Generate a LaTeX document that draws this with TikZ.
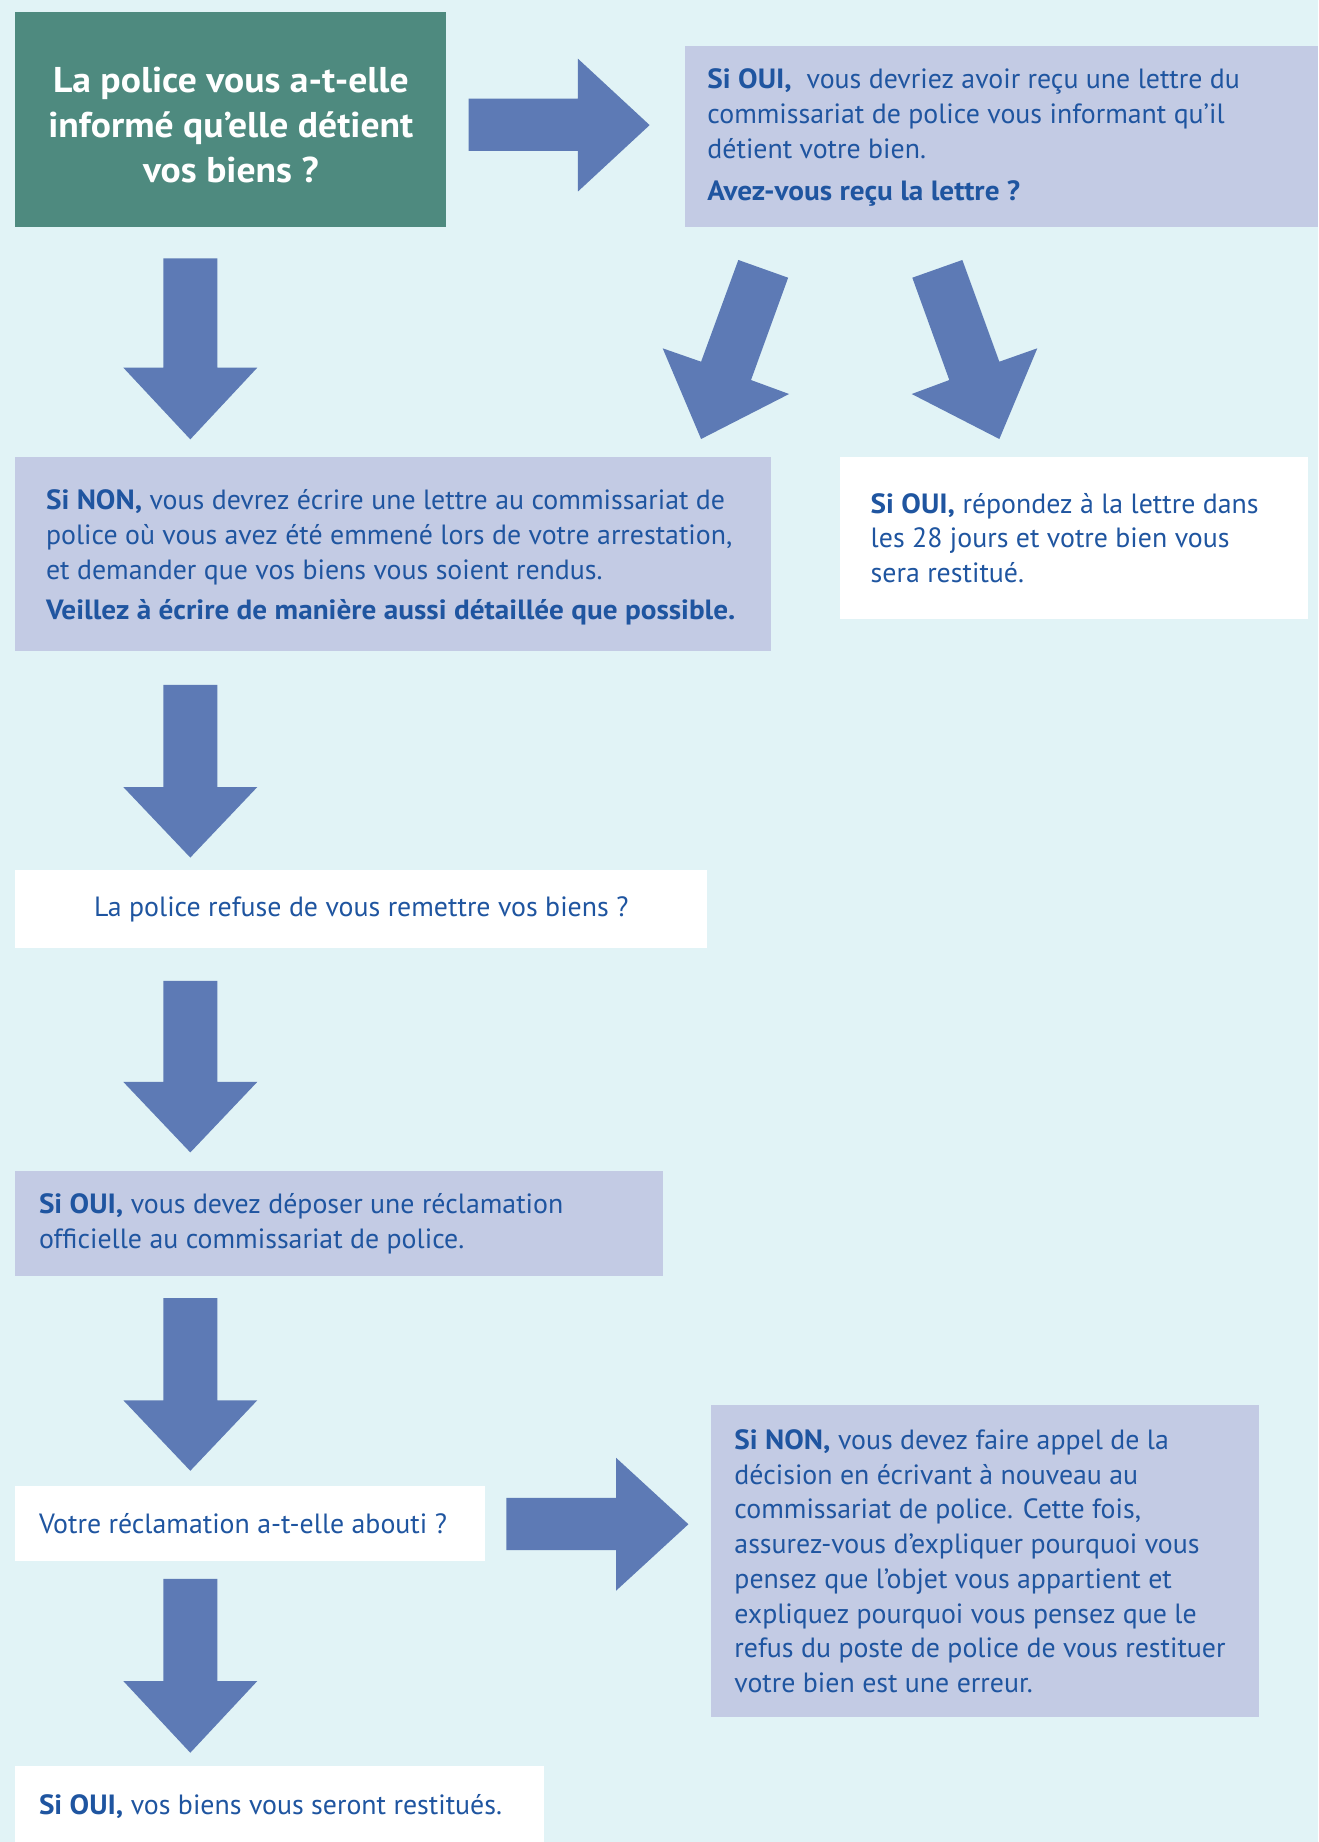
\documentclass[tikz,border=0pt]{standalone}
\usepackage{fontspec}
\setmainfont{PT Sans}[BoldFeatures={FakeStretch=1.05}]
\definecolor{bgc}{HTML}{E1F3F6}
\definecolor{lavc}{HTML}{C3CBE4}
\definecolor{greenc}{HTML}{4E8A7F}
\definecolor{arrowc}{HTML}{5D7AB5}
\definecolor{textc}{HTML}{1F55A0}
\newcommand{\dnarrow}[3]{\fill[arrowc] (139,#1) -- (185,#1) -- (185,#2) -- (219,#2) -- (162,#3) -- (105,#2) -- (139,#2) -- cycle;}
\begin{document}
\begin{tikzpicture}[x=1pt,y=-1pt,
  boxbase/.style={anchor=north west, inner sep=0, outer sep=0},
  lavbox/.style={boxbase, fill=lavc},
  whitebox/.style={boxbase, fill=white},
  greenbox/.style={boxbase, fill=greenc},
  txt/.style={inner sep=0, align=left, text=textc, anchor=west, font=\fontsize{23.7}{29.6}\selectfont},
  gtxt/.style={inner sep=0, align=center, text=white, font=\fontsize{30.5}{38.5}\selectfont\bfseries}]
\useasboundingbox (0,0) rectangle (1122,1568);
\fill[bgc] (0,0) rectangle (1122,1568);
% boxes
\node[greenbox, minimum width=367pt, minimum height=183pt] (b1) at (13,10) {};
\node[lavbox, minimum width=539pt, minimum height=154pt] (b2) at (583,39) {};
\node[lavbox, minimum width=643pt, minimum height=165pt] (b3) at (13,389) {};
\node[whitebox, minimum width=398pt, minimum height=138pt] (b4) at (715,389) {};
\node[whitebox, minimum width=589pt, minimum height=66pt] (b5) at (13,741) {};
\node[lavbox, minimum width=551pt, minimum height=89pt] (b6) at (13,997) {};
\node[whitebox, minimum width=400pt, minimum height=64pt] (b7) at (13,1265) {};
\node[lavbox, minimum width=467pt, minimum height=266pt] (b8) at (605,1196) {};
\node[whitebox, minimum width=450pt, minimum height=70pt] (b9) at (13,1503) {};
% texts
\node[gtxt] (t1) at ([yshift=-5pt]b1.center) {La police vous a-t-elle\\informé qu’elle détient\\vos biens ?};
\node[txt] (t2) at ([xshift=19pt,yshift=-1pt]b2.west) {\textbf{Si OUI,}\ \ vous devriez avoir reçu une lettre du\\commissariat de police vous informant qu’il\\détient votre bien.\\[6pt]\textbf{Avez-vous reçu la lettre ?}};
\node[txt] (t3) at ([xshift=26pt,yshift=-3pt]b3.west) {\textbf{Si NON,} vous devrez écrire une lettre au commissariat de\\police où vous avez été emmené lors de votre arrestation,\\et demander que vos biens vous soient rendus.\\[5pt]\textbf{Veillez à écrire de manière aussi détaillée que possible.}};
\node[txt] (t4) at ([xshift=26pt]b4.west) {\textbf{Si OUI,} répondez à la lettre dans\\les 28 jours et votre bien vous\\sera restitué.};
\node[txt, anchor=center] (t5) at (b5.center) {La police refuse de vous remettre vos biens ?};
\node[txt] (t6) at ([xshift=20pt]b6.west) {\textbf{Si OUI,} vous devez déposer une réclamation\\officielle au commissariat de police.};
\node[txt] (t7) at ([xshift=20pt]b7.west) {Votre réclamation a-t-elle abouti ?};
\node[txt] (t8) at ([xshift=20pt]b8.west) {\textbf{Si NON,} vous devez faire appel de la\\décision en écrivant à nouveau au\\commissariat de police. Cette fois,\\assurez-vous d’expliquer pourquoi vous\\pensez que l’objet vous appartient et\\expliquez pourquoi vous pensez que le\\refus du poste de police de vous restituer\\votre bien est une erreur.};
\node[txt] (t9) at ([xshift=20pt]b9.west) {\textbf{Si OUI,} vos biens vous seront restitués.};
% arrows
\fill[arrowc] (399,84) -- (492,84) -- (492,50) -- (553,106.5) -- (492,163) -- (492,128.5) -- (399,128.5) -- cycle;
\fill[arrowc] (431,1275) -- (524.5,1275) -- (524.5,1241) -- (586,1297.5) -- (524.5,1354) -- (524.5,1319.5) -- (431,1319.5) -- cycle;
\fill[arrowc] (628.5,221.3) -- (670.9,236.4) -- (639.3,323.5) -- (671.7,335.4) -- (596.8,373.7) -- (564.1,296.5) -- (596.8,307.9) -- cycle;
\fill[arrowc] (819.2,221.3) -- (776.6,236.4) -- (808.1,323.5) -- (776.1,335.4) -- (850.7,373.7) -- (883.0,296.5) -- (850.7,307.9) -- cycle;
\dnarrow{220}{313}{374}
\dnarrow{583}{670}{730}
\dnarrow{835}{921}{981}
\dnarrow{1105}{1192}{1252}
\dnarrow{1344}{1431}{1492}
\end{tikzpicture}
\end{document}
